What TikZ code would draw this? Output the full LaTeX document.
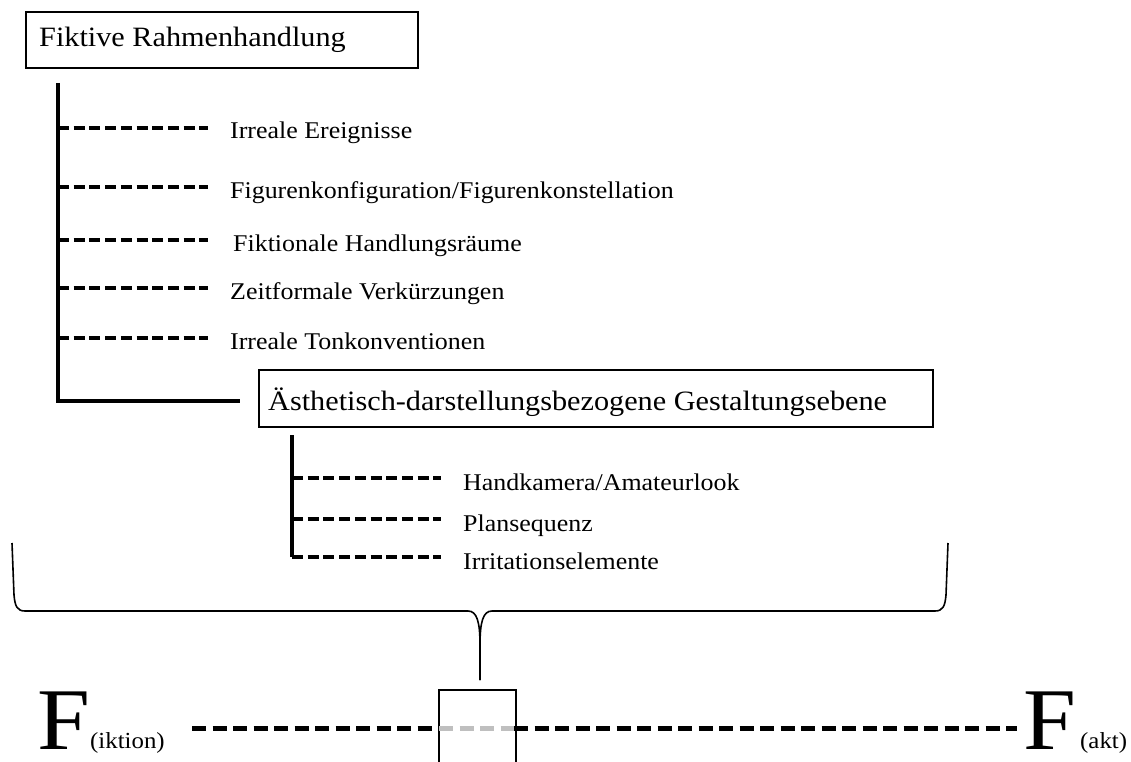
\documentclass[tikz,border=0pt]{standalone}
\usepackage{fontspec}
\setmainfont{Liberation Serif}[FakeStretch=1.08]
\usetikzlibrary{calc}

\tikzset{
  framebox/.style={draw, line width=2.2pt, inner sep=0pt, anchor=north west},
  bigtext/.style={font=\fontsize{28}{32}\selectfont, inner sep=0pt, anchor=base west},
  itemtext/.style={font=\fontsize{24}{28}\selectfont, inner sep=0pt, anchor=base west},
  subtext/.style={font=\fontsize{23}{26}\selectfont, inner sep=0pt, anchor=base west},
  letter/.style={font=\fontsize{88}{90}\selectfont, inner sep=0pt, anchor=base west},
  trunk/.style={line width=4pt, line cap=butt, line join=miter},
  twig/.style={line width=4pt, line cap=butt, dash pattern=on 11pt off 4.7pt},
  timeline/.style={line width=5pt, line cap=butt, dash pattern=on 14pt off 6.5pt},
  faded/.style={timeline, draw=black!25},
  bracket/.style={line width=1.6pt, line join=round},
}

\begin{document}
\begin{tikzpicture}[x=1pt,y=-1pt]
\useasboundingbox (0,0) rectangle (1131,762);
\clip (0,0) rectangle (1131,762);

% top level: fictional frame plot
\node[framebox, minimum width=392pt, minimum height=56pt] (rahmen) at (25,11) {};
\node[bigtext] (rahmentext) at (39,47) {Fiktive Rahmenhandlung};

\coordinate (t0) at (58,83);
\coordinate (t1) at (58,401);
\coordinate (t2) at (240,401);
\draw[trunk] (t0) -- (t1) -- (t2);

% branches of the frame plot
\coordinate (a1) at (58,128);
\coordinate (a2) at (58,187);
\coordinate (a3) at (58,240);
\coordinate (a4) at (58,288);
\coordinate (a5) at (58,338);
\node[itemtext] (i1) at (230,139) {Irreale Ereignisse};
\node[itemtext] (i2) at (230,198) {Figurenkonfiguration/Figurenkonstellation};
\node[itemtext] (i3) at (233,251) {Fiktionale Handlungsräume};
\node[itemtext] (i4) at (230,299) {Zeitformale Verkürzungen};
\node[itemtext] (i5) at (230,349) {Irreale Tonkonventionen};
\foreach \k in {1,...,5}{
  \draw[twig] (a\k) -- ++(150,0);
}

% aesthetic level
\node[framebox, minimum width=674pt, minimum height=57pt] (aest) at (258,369) {};
\node[bigtext] (aesttext) at (268,410) {Ästhetisch-darstellungsbezogene Gestaltungsebene};

\coordinate (s0) at (292,435);
\coordinate (b1) at (292,478);
\coordinate (b2) at (292,519);
\coordinate (b3) at (292,557);
\draw[trunk] (s0) -- (b3);
\node[itemtext] (h1) at (463,490) {Handkamera/Amateurlook};
\node[itemtext] (h2) at (463,531) {Plansequenz};
\node[itemtext] (h3) at (463,569) {Irritationselemente};
\foreach \k in {1,2,3}{
  \draw[twig] (b\k) -- ++(149,0);
}

% brace gathering both levels
\coordinate (bl) at (12,543);
\coordinate (br) at (948,543);
\coordinate (tip) at (480,680);
\draw[bracket] (bl) -- (14,595) .. controls (15,606) and (17,611) .. (25,611)
  -- (468,611) .. controls (477,611) and (480,622) .. (480,645) -- (tip);
\draw[bracket] (tip) -- (480,645) .. controls (480,622) and (483,611) .. (492,611)
  -- (935,611) .. controls (943,611) and (945,606) .. (946,595) -- (br);

% fiction -- fact axis
\node[framebox, minimum width=77pt, minimum height=110pt] (gap) at (438,689) {};
\node[letter] (fl) at (37,749) {F};
\node[subtext] (flsub) at (90,748) {(iktion)};
\node[letter] (fr) at (1023,749) {F};
\node[subtext] (frsub) at (1080,748) {(akt)};

\coordinate (l0) at (192,728);
\coordinate (r0) at (1017,728);
\coordinate (gl) at (439,728);
\coordinate (gr) at (514,728);
\draw[timeline] (l0) -- (gl);
\draw[faded] (gl) -- (gr);
\draw[timeline] (gr) -- (r0);
\end{tikzpicture}
\end{document}
